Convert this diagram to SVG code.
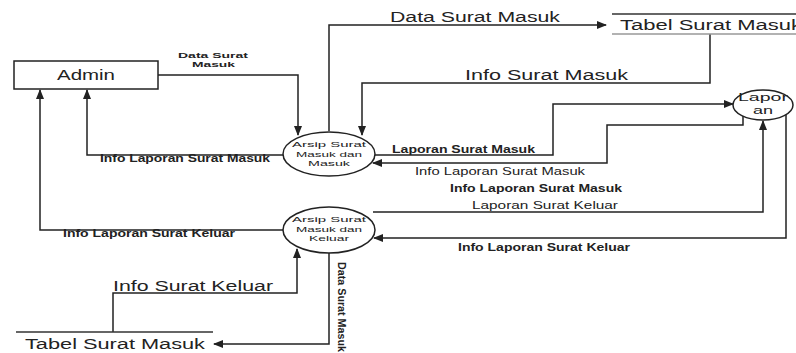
<svg xmlns="http://www.w3.org/2000/svg" width="796" height="353" viewBox="0 0 796 353">
<style>
.ln{fill:none;stroke:#222;stroke-width:1.5}
.nd{fill:#fff;stroke:#222;stroke-width:1.5}
.st{stroke:#333;stroke-width:1.5}
.st2{stroke:#999;stroke-width:1.5}
text{font-family:"Liberation Sans",Arial,sans-serif;fill:#222}
.big{font-size:14px}
.sm{font-size:10px;font-weight:bold}
.xs{font-size:8px;font-weight:bold}
.md{font-size:11px}
.pt{font-size:8px;text-anchor:middle}
</style>
<defs>
<marker id="ar" markerUnits="userSpaceOnUse" markerWidth="10" markerHeight="8" refX="9" refY="4" orient="auto">
<path d="M0,0 L10,4 L0,8 Z" fill="#222"/>
</marker>
</defs>
<g id="connectors">
<path class="ln" marker-end="url(#ar)" d="M158,75 H298 V135"/>
<path class="ln" marker-end="url(#ar)" d="M710,34 V83 H362 V135"/>
<path class="ln" marker-end="url(#ar)" d="M329,131 V25 H606"/>
<path class="ln" marker-end="url(#ar)" d="M283,155 H87 V90"/>
<path class="ln" marker-end="url(#ar)" d="M375,155 H553 V104 H733"/>
<path class="ln" marker-end="url(#ar)" d="M743,116 V125 H607 V163 H373"/>
<path class="ln" marker-end="url(#ar)" d="M373,212 H763 V121"/>
<path class="ln" marker-end="url(#ar)" d="M786,110 V238 H374"/>
<path class="ln" marker-end="url(#ar)" d="M284,230 H40 V90"/>
<path class="ln" marker-end="url(#ar)" d="M113,332 V293 H297 V249"/>
<path class="ln" marker-end="url(#ar)" d="M329,253 V344 H214"/>
</g>
<g id="labels">
<text class="big" x="390" y="22" textLength="170" lengthAdjust="spacingAndGlyphs">Data Surat Masuk</text>
<text class="big" x="465" y="80" textLength="163" lengthAdjust="spacingAndGlyphs">Info Surat Masuk</text>
<text class="xs" x="178" y="58" textLength="70" lengthAdjust="spacingAndGlyphs">Data Surat</text>
<text class="xs" x="192" y="67" textLength="43" lengthAdjust="spacingAndGlyphs">Masuk</text>
<text class="sm" x="100" y="162" textLength="170" lengthAdjust="spacingAndGlyphs">Info Laporan Surat Masuk</text>
<text class="sm" x="392" y="153" textLength="143" lengthAdjust="spacingAndGlyphs">Laporan Surat Masuk</text>
<text class="md" x="415" y="175" textLength="170" lengthAdjust="spacingAndGlyphs">Info Laporan Surat Masuk</text>
<text class="sm" x="450" y="192" textLength="172" lengthAdjust="spacingAndGlyphs">Info Laporan Surat Masuk</text>
<text class="md" x="472" y="209" textLength="146" lengthAdjust="spacingAndGlyphs">Laporan Surat Keluar</text>
<text class="sm" x="458" y="251" textLength="172" lengthAdjust="spacingAndGlyphs">Info Laporan Surat Keluar</text>
<text class="sm" x="63" y="237" textLength="172" lengthAdjust="spacingAndGlyphs">Info Laporan Surat Keluar</text>
<text class="big" x="113" y="291" textLength="160" lengthAdjust="spacingAndGlyphs">Info Surat Keluar</text>
<text class="sm" transform="translate(338,262) rotate(90)" textLength="90" lengthAdjust="spacingAndGlyphs">Data Surat Masuk</text>
</g>
<g id="admin">
<rect class="nd" x="14" y="61" width="144" height="28"/>
<text class="big" x="86" y="80" text-anchor="middle" textLength="58" lengthAdjust="spacingAndGlyphs">Admin</text>
</g>
<g id="tabel-surat-masuk-top">
<line class="st" x1="612" y1="14" x2="796" y2="14"/>
<line class="st2" x1="612" y1="34" x2="796" y2="34"/>
<text class="big" x="620" y="30" textLength="182" lengthAdjust="spacingAndGlyphs">Tabel Surat Masuk</text>
</g>
<g id="tabel-surat-masuk-bottom">
<line class="st" x1="16" y1="332" x2="213" y2="332"/>
<text class="big" x="25" y="349" textLength="180" lengthAdjust="spacingAndGlyphs">Tabel Surat Masuk</text>
</g>
<g id="proses-masuk">
<ellipse class="nd" cx="329" cy="154" rx="46" ry="22"/>
<text class="pt" x="329" y="147" textLength="74" lengthAdjust="spacingAndGlyphs">Arsip Surat</text>
<text class="pt" x="329" y="156.5" textLength="66" lengthAdjust="spacingAndGlyphs">Masuk dan</text>
<text class="pt" x="329" y="166" textLength="42" lengthAdjust="spacingAndGlyphs">Masuk</text>
</g>
<g id="proses-keluar">
<ellipse class="nd" cx="329" cy="230" rx="46" ry="23"/>
<text class="pt" x="329" y="222" textLength="74" lengthAdjust="spacingAndGlyphs">Arsip Surat</text>
<text class="pt" x="329" y="231.5" textLength="66" lengthAdjust="spacingAndGlyphs">Masuk dan</text>
<text class="pt" x="329" y="241" textLength="40" lengthAdjust="spacingAndGlyphs">Keluar</text>
</g>
<g id="laporan">
<ellipse class="nd" cx="763" cy="105" rx="30" ry="15"/>
<text x="763" y="101" text-anchor="middle" font-size="11" textLength="50" lengthAdjust="spacingAndGlyphs">Lapor</text>
<text x="763" y="114" text-anchor="middle" font-size="11" textLength="20" lengthAdjust="spacingAndGlyphs">an</text>
</g>
</svg>
